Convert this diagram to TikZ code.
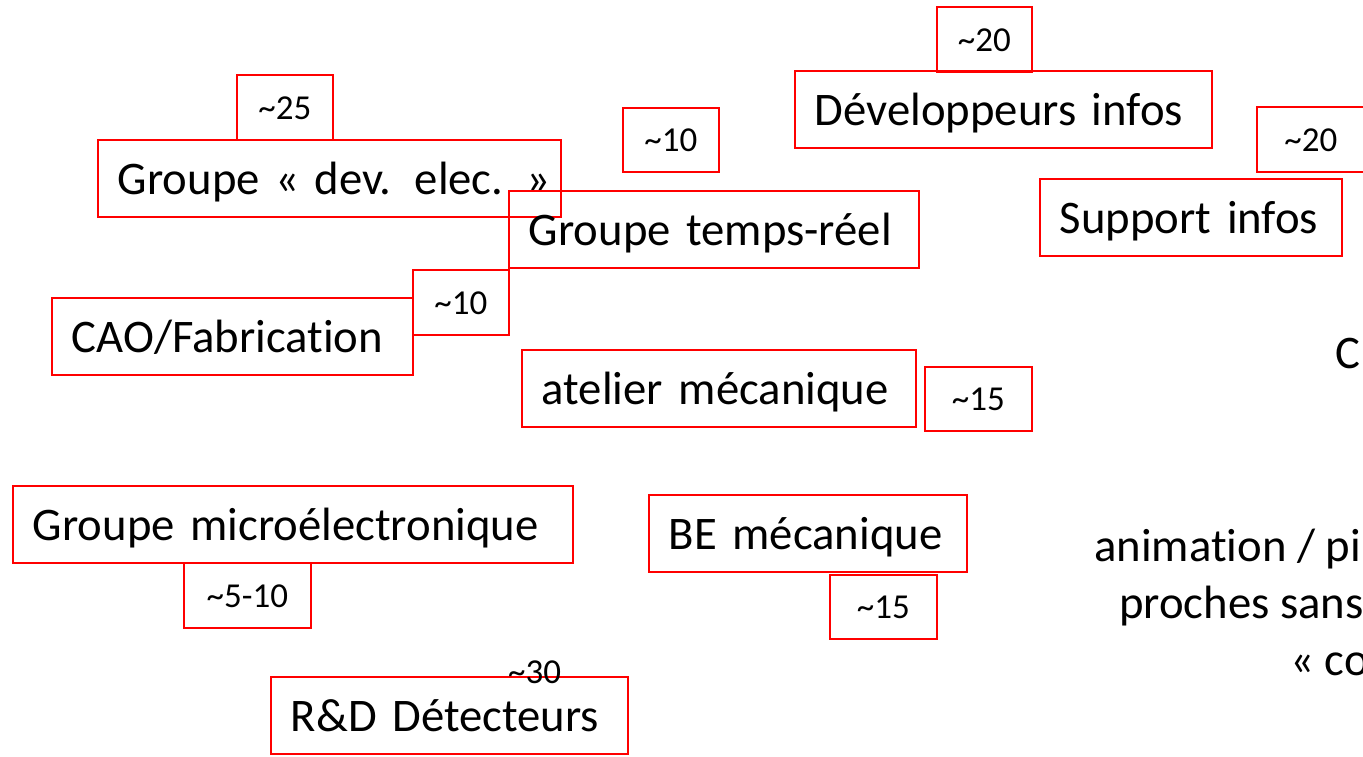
\documentclass[tikz,border=0pt]{standalone}
\usepackage{fontspec}
\setmainfont[RawFeature={-liga;-clig;-calt;-dlig}]{Carlito}
\begin{document}
\begin{tikzpicture}[x=1pt,y=-1pt,
  bigbox/.style={draw=red, line width=1.8pt, anchor=north west, inner xsep=20pt, inner ysep=0pt,
    text height=55pt, text depth=22pt, align=left, font=\fontsize{46.7}{56}\selectfont},
  numbox/.style={draw=red, line width=1.8pt, anchor=north west, inner xsep=0pt, inner ysep=0pt,
    text height=45pt, text depth=20pt, font=\fontsize{35}{42}\selectfont},
  plain/.style={anchor=base west, inner sep=0pt, font=\fontsize{46.7}{56}\selectfont},
  plainsmall/.style={anchor=base west, inner sep=0pt, font=\fontsize{35}{42}\selectfont}]
\clip (0,0) rectangle (1363,757);
% big boxes
\node[bigbox, text width=377pt] (dev) at (794,70) {\mbox{Développeurs infos}};
\node[bigbox, text width=423pt] (elec) at (97,139) {\mbox{Groupe « dev. elec. »}};
\node[bigbox, text width=370pt] (tr) at (508,190) {\mbox{Groupe temps-réel}};
\node[bigbox, text width=262pt] (sup) at (1039,178) {\mbox{Support infos}};
\node[bigbox, text width=321pt] (cao) at (51,297) {\mbox{CAO/Fabrication}};
\node[bigbox, text width=354pt] (atel) at (521,349) {\mbox{atelier mécanique}};
\node[bigbox, text width=520pt] (micro) at (12,485) {\mbox{Groupe microélectronique}};
\node[bigbox, text width=278pt] (be) at (648,494) {\mbox{BE mécanique}};
\node[bigbox, text width=317pt] (rd) at (270,676) {\mbox{R\&D Détecteurs}};
% number boxes
\node[numbox, minimum width=95pt] (n1) at (936,6) {\textasciitilde 20};
\node[numbox, minimum width=96pt] (n2) at (236,74) {\textasciitilde 25};
\node[numbox, minimum width=96pt, text height=44pt] (n3) at (622,107) {\textasciitilde 10};
\node[numbox, minimum width=108pt] (n4) at (1256,106) {\textasciitilde 20};
\node[numbox, minimum width=96pt] (n5) at (412,269) {\textasciitilde 10};
\node[numbox, minimum width=107pt, text height=44pt] (n6) at (924,366) {\textasciitilde 15};
\node[numbox, minimum width=127pt] (n7) at (183,562) {\textasciitilde 5-10};
\node[numbox, minimum width=107pt, text height=44pt] (n8) at (829,574) {\textasciitilde 15};
% free texts
\node[plainsmall] (n9) at (508,683) {\textasciitilde 30};
\node[plain] (c) at (1335,368) {C};
\node[plain] (t1) at (1094,561) {animation / pi};
\node[plain] (t2) at (1119,618) {proches sans};
\node[plain] (t3) at (1290,675) {« co};
\end{tikzpicture}
\end{document}
